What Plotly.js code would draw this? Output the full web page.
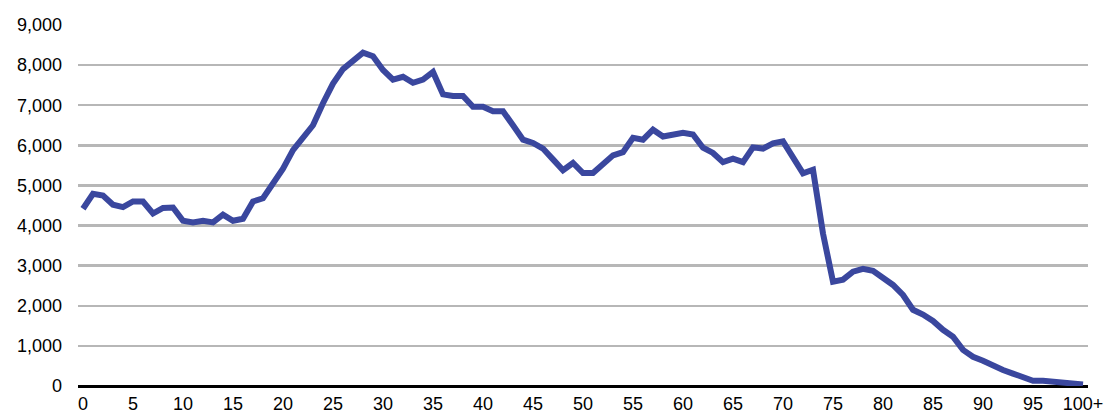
<!DOCTYPE html>
<html>
<head>
<meta charset="utf-8">
<script src="https://cdn.plot.ly/plotly-3.0.1.min.js"></script>
<style>
  html, body { margin: 0; padding: 0; background: #ffffff; }
  #chart { width: 1104px; height: 416px; }
</style>
</head>
<body>
<div id="chart"></div>
<script>
// Age (single years, last one is "100+")
const ages = [
  0, 1, 2, 3, 4, 5, 6, 7, 8, 9,
  10, 11, 12, 13, 14, 15, 16, 17, 18, 19,
  20, 21, 22, 23, 24, 25, 26, 27, 28, 29,
  30, 31, 32, 33, 34, 35, 36, 37, 38, 39,
  40, 41, 42, 43, 44, 45, 46, 47, 48, 49,
  50, 51, 52, 53, 54, 55, 56, 57, 58, 59,
  60, 61, 62, 63, 64, 65, 66, 67, 68, 69,
  70, 71, 72, 73, 74, 75, 76, 77, 78, 79,
  80, 81, 82, 83, 84, 85, 86, 87, 88, 89,
  90, 91, 92, 93, 94, 95, 96, 97, 98, 99,
  100
];

// Population count per age
const population = [
  4420, 4790, 4750, 4520, 4460, 4600, 4600, 4300, 4440, 4450,
  4120, 4080, 4120, 4080, 4270, 4120, 4170, 4600, 4680, 5040,
  5420, 5880, 6200, 6500, 7050, 7540, 7900, 8100, 8310, 8220,
  7880, 7640, 7710, 7560, 7640, 7830, 7270, 7230, 7230, 6960,
  6960, 6850, 6850, 6500, 6140, 6060, 5920, 5650, 5380, 5560,
  5310, 5310, 5530, 5750, 5830, 6190, 6140, 6390, 6220, 6270,
  6310, 6270, 5940, 5810, 5580, 5670, 5580, 5950, 5920, 6050,
  6100, 5700, 5300, 5390, 3800, 2600, 2650, 2850, 2920, 2870,
  2680, 2520, 2270, 1900, 1780, 1620, 1400, 1230, 900, 730,
  630, 500, 400, 310, 200, 130, 130, 100, 90, 50,
  40
];

// Tick labels on the x axis
const xTickVals = [0, 5, 10, 15, 20, 25, 30, 35, 40, 45, 50, 55, 60, 65, 70, 75, 80, 85, 90, 95, 100];
const xTickText = ['0', '5', '10', '15', '20', '25', '30', '35', '40', '45', '50', '55', '60', '65', '70', '75', '80', '85', '90', '95', '100+'];

// Tick values on the y axis
const yTickVals = [0, 1000, 2000, 3000, 4000, 5000, 6000, 7000, 8000, 9000];
const yTickText = ['0', '1,000', '2,000', '3,000', '4,000', '5,000', '6,000', '7,000', '8,000', '9,000'];

const trace = {
  x: ages,
  y: population,
  type: 'scatter',
  mode: 'lines',
  line: { color: '#3A479E', width: 6, shape: 'linear' },
  hoverinfo: 'x+y'
};

const layout = {
  width: 1104,
  height: 416,
  margin: { l: 78, r: 16, t: 25, b: 30, pad: 0 },
  paper_bgcolor: '#ffffff',
  plot_bgcolor: '#ffffff',
  showlegend: false,
  font: { family: '"Liberation Sans", Arial, sans-serif', size: 18, color: '#000000' },
  xaxis: {
    range: [-0.5, 100.5],
    tickmode: 'array',
    tickvals: xTickVals,
    ticktext: xTickText,
    showgrid: false,
    zeroline: false,
    showline: false,
    ticks: '',
    ticklabelstandoff: 5,
    tickfont: { size: 18, color: '#000000' },
    fixedrange: true
  },
  yaxis: {
    range: [0, 9000],
    tickmode: 'array',
    tickvals: yTickVals,
    ticktext: yTickText,
    showgrid: true,
    gridcolor: '#B7B7B7',
    gridwidth: 2.5,
    zeroline: true,
    zerolinecolor: '#000000',
    zerolinewidth: 3,
    showline: false,
    ticks: '',
    ticklabelstandoff: 15,
    tickfont: { size: 18, color: '#000000' },
    fixedrange: true
  }
};

Plotly.newPlot('chart', [trace], layout, { displayModeBar: false, staticPlot: true });
</script>
</body>
</html>
